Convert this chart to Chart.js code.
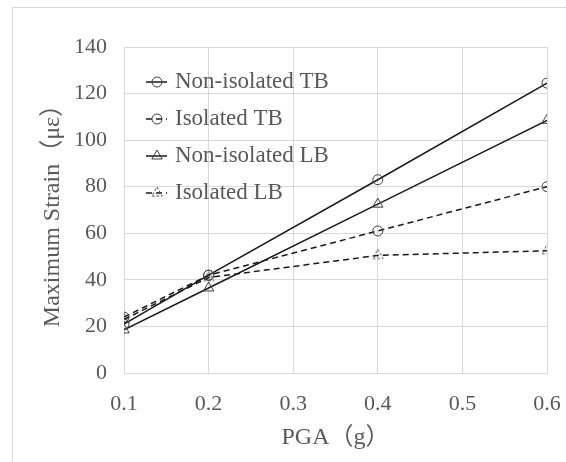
<!DOCTYPE html>
<html>
<head>
<meta charset="utf-8">
<script src="https://cdn.jsdelivr.net/npm/chart.js@4/dist/chart.umd.min.js"></script>
<style>
  html, body { margin: 0; padding: 0; background: #fff; }
  #wrap { width: 566px; height: 462px; }
</style>
</head>
<body>
<div id="wrap"><canvas id="c" width="566" height="462"></canvas></div>
<script>
// strain vs PGA
const pga = [0.1, 0.2, 0.4, 0.6];
const xTicks = [0.1, 0.2, 0.3, 0.4, 0.5, 0.6];
const yTicks = [0, 20, 40, 60, 80, 100, 120, 140];

const seriesNames = ['Non-isolated TB', 'Isolated TB', 'Non-isolated LB', 'Isolated LB'];
const nonIsoTB = [21, 42, 83, 124.5];
const isoTB    = [24, 42, 61, 80];
const nonIsoLB = [18.5, 36.5, 72.5, 108.5];
const isoLB    = [23, 41, 50.5, 52.5];

const FONT = '"Liberation Serif", "Times New Roman", "Noto Sans CJK SC", serif';
const TEXT = '#595959';
const GRID = '#d9d9d9';
const MARK = '#404040';

// dashed triangle marker (Excel dashes the marker outline too)
function dashedTriangle(r) {
  const size = Math.ceil(r * 2 + 4);
  const cv = document.createElement('canvas');
  cv.width = size; cv.height = size;
  const g = cv.getContext('2d');
  const c = size / 2;
  g.strokeStyle = MARK;
  g.lineWidth = 1;
  g.setLineDash([2.5, 2]);
  g.beginPath();
  g.moveTo(c, c - r);
  g.lineTo(c + r * 0.87, c + r * 0.5);
  g.lineTo(c - r * 0.87, c + r * 0.5);
  g.closePath();
  g.stroke();
  return cv;
}

function pts(vals) {
  return vals.map((v, i) => ({ x: pga[i], y: v }));
}

function series(label, vals, style, dashed) {
  const tri = style === 'triangle';
  return {
    label,
    data: pts(vals),
    showLine: true,
    borderColor: '#1a1a1a',
    borderWidth: 1.5,
    borderDash: dashed ? [6, 4] : [],
    pointStyle: tri && dashed ? dashedTriangle(6) : style,
    pointRadius: tri ? 6 : 5,
    pointBorderColor: MARK,
    pointBorderWidth: 1,
    pointBackgroundColor: 'rgba(0,0,0,0)',
    tension: 0
  };
}

// light frame round the picture, as in the original export
const framePlugin = {
  id: 'frame',
  beforeDraw(chart) {
    const ctx = chart.ctx;
    ctx.save();
    ctx.fillStyle = '#fff';
    ctx.fillRect(0, 0, chart.width, chart.height);
    ctx.strokeStyle = GRID;
    ctx.lineWidth = 1;
    ctx.beginPath();
    ctx.moveTo(12.5, chart.height);
    ctx.lineTo(12.5, 7.5);
    ctx.lineTo(chart.width, 7.5);
    ctx.stroke();
    ctx.restore();
  }
};

// legend floats inside the plot, top-left
const innerLegend = {
  id: 'innerLegend',
  afterDatasetsDraw(chart) {
    const ctx = chart.ctx;
    ctx.save();
    chart.data.datasets.forEach((ds, i) => {
      const y = 82 + i * 37;
      const cx = 157;
      ctx.strokeStyle = ds.borderColor;
      ctx.lineWidth = ds.borderWidth;
      ctx.setLineDash(ds.borderDash);
      ctx.beginPath();
      ctx.moveTo(146, y);
      ctx.lineTo(167, y);
      ctx.stroke();
      ctx.setLineDash([]);
      ctx.strokeStyle = ds.pointBorderColor;
      ctx.lineWidth = ds.pointBorderWidth;
      const r = ds.pointRadius;
      if (ds.pointStyle instanceof HTMLCanvasElement) {
        const im = ds.pointStyle;
        ctx.drawImage(im, cx - im.width / 2, y - im.height / 2);
      } else {
        ctx.beginPath();
        if (ds.pointStyle === 'circle') {
          ctx.arc(cx, y, r, 0, Math.PI * 2);
        } else {
          ctx.moveTo(cx, y - r);
          ctx.lineTo(cx + r * 0.87, y + r * 0.5);
          ctx.lineTo(cx - r * 0.87, y + r * 0.5);
          ctx.closePath();
        }
        ctx.stroke();
      }
      ctx.fillStyle = TEXT;
      ctx.font = '23px ' + FONT;
      ctx.textBaseline = 'middle';
      ctx.textAlign = 'left';
      ctx.fillText(ds.label, 175, y);
    });
    ctx.restore();
  }
};

new Chart(document.getElementById('c'), {
  type: 'scatter',
  data: {
    datasets: [
      series(seriesNames[0], nonIsoTB, 'circle', false),
      series(seriesNames[1], isoTB, 'circle', true),
      series(seriesNames[2], nonIsoLB, 'triangle', false),
      series(seriesNames[3], isoLB, 'triangle', true)
    ]
  },
  options: {
    responsive: false,
    animation: false,
    layout: { padding: { top: 47, right: 19, left: 0, bottom: 0 } },
    plugins: { legend: { display: false }, tooltip: { enabled: false } },
    scales: {
      x: {
        type: 'linear',
        min: 0.1,
        max: 0.6,
        afterBuildTicks(scale) { scale.ticks = xTicks.map(v => ({ value: v })); },
        afterFit(scale) {
          scale.height = 89;
          scale.paddingLeft = 0;
          scale.paddingRight = 0;
        },
        ticks: {
          color: TEXT,
          padding: 18,
          font: { family: FONT, size: 22 },
          callback: v => v.toFixed(1)
        },
        grid: { color: GRID, drawTicks: false },
        border: { color: GRID },
        title: {
          display: true,
          text: 'PGA（g）',
          color: TEXT,
          font: { family: FONT, size: 24 },
          padding: { top: 0, bottom: 10 }
        }
      },
      y: {
        min: 0,
        max: 140,
        afterBuildTicks(scale) { scale.ticks = yTicks.map(v => ({ value: v })); },
        afterFit(scale) {
          scale.width = 124;
          scale.paddingTop = 0;
          scale.paddingBottom = 0;
        },
        ticks: {
          color: TEXT,
          padding: 17,
          font: { family: FONT, size: 22 }
        },
        grid: { color: GRID, drawTicks: false },
        border: { color: GRID },
        title: {
          display: true,
          text: 'Maximum Strain（με）',
          color: TEXT,
          font: { family: FONT, size: 24 },
          padding: { top: 38, bottom: 0 }
        }
      }
    }
  },
  plugins: [framePlugin, innerLegend]
});
</script>
</body>
</html>
